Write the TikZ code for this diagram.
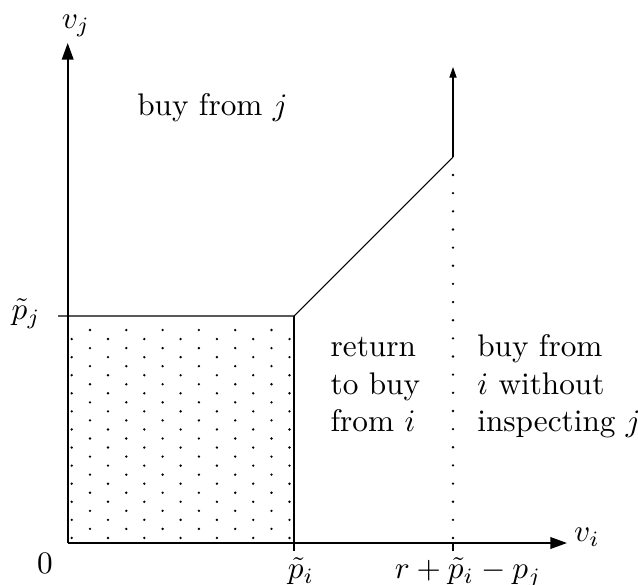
\documentclass[tikz,border=0pt]{standalone}
\usetikzlibrary{arrows.meta}
\begin{document}
\begin{tikzpicture}[x=0.32pt,y=-0.32pt,
  axis/.style={line width=0.55pt,-{Triangle[length=5.3pt,width=3.7pt]}},
  thinline/.style={line width=0.35pt},
  lab/.style={inner sep=0pt}]
\useasboundingbox (0,0) rectangle (638,584);
% key points
\coordinate (O) at (67.7,543);
\coordinate (X) at (567,543);
\coordinate (Y) at (67.7,43);
\coordinate (PJ0) at (58,316);
\coordinate (C1) at (294,316);
\coordinate (C2) at (453,157);
\coordinate (T) at (453,67);
\coordinate (PI) at (294,551);
\coordinate (R0) at (453,543);
\coordinate (R) at (453,551);
% dotted region
\foreach \k in {0,...,23}{
  \ifodd\k
    \foreach \m in {0,...,6} \fill ({71.7+36.3*\m},{330+9.04*\k}) circle (0.42pt);
  \else
    \foreach \m in {0,...,5} \fill ({90+36.3*\m},{330+9.04*\k}) circle (0.42pt);
  \fi
}
% dotted vertical line
\foreach \k in {0,...,20} \fill (453,{175+18.15*\k}) circle (0.42pt);
% boundaries
\draw[thinline] (PJ0) -- (C1) -- (C2);
\draw[thinline,-{Triangle[length=3.4pt,width=2.3pt]}] (C2) -- (T);
\draw[thinline] (C1) -- (PI);
\draw[thinline] (R0) -- (R);
% axes
\draw[axis] (O) -- (X);
\draw[axis] (O) -- (Y);
% labels
\node[lab] (vj) at (76,26) {$v_j$};
\node[lab] (vi) at (587,537) {$v_i$};
\node[lab] (pj) at (26,314) {$\tilde p_j$};
\node[lab] (zero) at (45,563) {$0$};
\node[lab,anchor=north] (pil) at (301,557) {$\tilde p_i$};
\node[lab,anchor=north] (rl) at (468,557) {$r+\tilde p_i-p_j$};
\node[lab,anchor=base west] (buyj) at (136.7,115) {buy from $j$};
\node[lab,anchor=base west] (ret) at (330,356.7) {\begin{tabular}[t]{@{}l@{}}return\\to buy\\from $i$\end{tabular}};
\node[lab,anchor=base west] (wo) at (476.7,356.7) {\begin{tabular}[t]{@{}l@{}}buy from\\$i$ without\\inspecting $j$\end{tabular}};
\end{tikzpicture}
\end{document}
